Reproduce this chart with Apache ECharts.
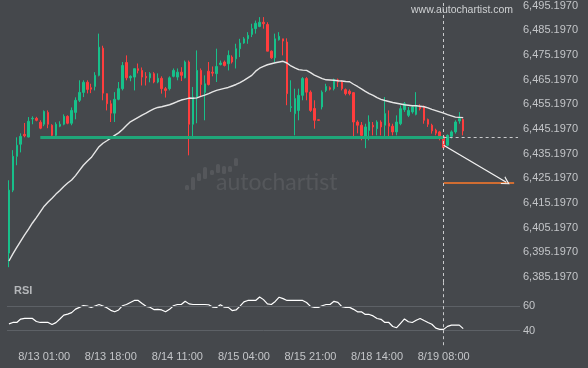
<!DOCTYPE html>
<html>
<head>
<meta charset="utf-8">
<script src="https://cdn.jsdelivr.net/npm/echarts@6/dist/echarts.min.js"></script>
<style>
html,body{margin:0;padding:0;background:#45484c;}
#chart{width:588px;height:368px;}
</style>
</head>
<body>
<div id="chart"></div>
<script>
// ---- data ----
const xTickLabels = ['8/13 01:00','8/13 18:00','8/14 11:00','8/15 04:00','8/15 21:00','8/18 14:00','8/19 08:00'];
const priceTicks = [6385.197,6395.197,6405.197,6415.197,6425.197,6435.197,6445.197,6455.197,6465.197,6475.197,6485.197,6495.197];
const rsiTicks = [40, 60];
const skippedHours = ['8/18 21:00'];
const totalSlots = 131;

// candles: [open, close, low, high]
const candles = [
[6394.9,6420.4,6389.2,6424.4],[6420.4,6434.1,6419.6,6436.6],[6434.1,6438.6,6430.5,6441.8],[6439.0,6442.2,6435.7,6443.4],
[6443.0,6442.4,6441.8,6447.6],[6441.9,6448.3,6441.8,6450.0],[6449.3,6449.5,6447.1,6450.3],[6449.5,6448.7,6448.3,6450.1],
[6447.9,6445.5,6445.1,6448.7],[6447.1,6452.3,6446.3,6452.7],[6451.9,6447.1,6445.5,6452.7],[6446.7,6442.6,6441.9,6447.1],
[6442.6,6447.1,6441.8,6447.9],[6446.3,6447.1,6445.9,6448.3],[6447.1,6450.3,6446.7,6451.1],[6450.3,6447.5,6447.1,6450.7],
[6447.5,6452.7,6446.7,6453.9],[6451.9,6456.8,6449.1,6458.0],[6456.8,6460.0,6456.1,6464.9],[6460.0,6464.1,6458.1,6464.9],
[6464.1,6461.2,6459.6,6464.9],[6461.9,6461.3,6459.7,6463.5],[6462.4,6466.9,6460.8,6468.2],[6466.9,6478.3,6466.5,6483.8],
[6477.9,6459.7,6456.8,6478.9],[6459.5,6455.4,6452.7,6459.6],[6455.4,6451.6,6448.0,6456.8],[6451.6,6457.2,6448.0,6460.1],
[6457.2,6461.5,6456.8,6464.2],[6461.5,6470.9,6460.8,6472.3],[6472.1,6465.9,6464.9,6475.0],[6465.9,6466.5,6464.5,6466.9],
[6466.2,6469.6,6460.8,6469.7],[6469.6,6468.9,6467.7,6471.7],[6468.9,6466.2,6462.8,6470.1],[6466.5,6465.9,6462.8,6468.2],
[6465.9,6467.6,6464.1,6468.2],[6467.6,6464.2,6463.7,6468.2],[6464.2,6465.7,6463.7,6467.7],[6465.7,6461.5,6459.5,6466.5],
[6461.5,6460.8,6457.9,6462.2],[6461.5,6465.9,6460.8,6466.5],[6466.5,6468.9,6466.1,6469.7],[6466.2,6468.2,6464.9,6469.7],
[6468.2,6466.9,6464.6,6470.2],[6465.9,6472.3,6465.7,6472.9],[6472.3,6447.1,6434.5,6472.9],[6447.1,6458.1,6441.4,6462.2],
[6458.1,6468.9,6447.5,6477.0],[6468.9,6463.2,6458.4,6469.7],[6460.0,6463.5,6448.7,6466.9],[6468.6,6463.2,6462.8,6472.3],
[6468.2,6467.8,6466.5,6470.5],[6467.6,6470.5,6464.2,6477.7],[6471.3,6471.9,6470.9,6472.9],[6472.3,6470.9,6470.5,6472.9],
[6471.6,6475.0,6468.9,6477.0],[6474.3,6472.3,6471.7,6475.0],[6473.6,6477.7,6469.7,6479.7],[6477.7,6480.0,6474.3,6481.7],
[6480.0,6481.7,6479.7,6482.4],[6481.7,6483.1,6479.7,6484.4],[6483.5,6485.8,6482.4,6487.8],[6485.8,6488.0,6483.8,6489.1],
[6486.7,6488.4,6486.4,6490.5],[6488.4,6487.8,6485.8,6490.5],[6487.5,6476.7,6476.7,6488.4],[6476.7,6474.0,6473.6,6477.0],
[6474.0,6481.7,6472.3,6483.8],[6481.3,6482.7,6481.0,6484.4],[6481.7,6480.8,6475.0,6481.7],[6480.4,6459.5,6454.8,6481.9],
[6453.9,6454.2,6452.1,6464.9],[6451.4,6457.5,6442.6,6461.5],[6452.7,6458.8,6448.7,6461.5],[6458.8,6465.6,6456.8,6466.2],
[6465.6,6460.1,6456.8,6466.2],[6460.1,6452.7,6452.1,6460.8],[6453.5,6448.7,6445.3,6456.8],[6448.9,6448.7,6448.5,6448.9],
[6454.1,6460.1,6453.1,6460.8],[6460.8,6462.4,6460.1,6463.5],[6461.9,6461.3,6460.8,6462.4],[6461.5,6465.1,6460.8,6465.6],
[6465.1,6464.2,6462.2,6465.6],[6464.2,6461.5,6460.8,6464.9],[6461.1,6459.5,6458.8,6461.6],[6460.5,6459.5,6458.8,6461.2],
[6459.9,6448.0,6441.4,6460.1],[6448.0,6446.7,6443.4,6448.7],[6446.7,6442.6,6440.6,6448.0],[6441.3,6446.0,6437.4,6447.3],
[6444.6,6448.0,6440.6,6450.7],[6446.7,6446.0,6442.6,6448.0],[6445.3,6448.0,6442.6,6448.7],[6448.0,6446.0,6442.6,6448.7],
[6446.7,6451.4,6441.4,6458.1],[6447.5,6446.3,6441.9,6452.7],[6446.3,6444.0,6442.6,6447.3],[6444.0,6448.0,6442.6,6450.7],
[6447.3,6453.4,6446.7,6454.7],[6453.0,6455.4,6452.1,6456.1],[6450.7,6452.7,6450.0,6454.1],[6452.1,6454.1,6451.4,6454.7],
[6451.1,6454.7,6450.7,6460.1],[6454.3,6453.4,6452.7,6455.2],[6454.1,6448.7,6447.3,6454.7],[6449.0,6447.1,6446.0,6449.4],
[6446.7,6444.4,6443.3,6447.3],[6444.7,6443.5,6442.6,6445.3],[6444.0,6441.7,6440.6,6444.4],[6442.2,6437.6,6437.2,6442.6],
[6438.6,6442.6,6438.2,6443.0],[6442.2,6444.0,6441.3,6444.6],[6444.0,6448.0,6443.3,6448.7],[6448.4,6449.4,6447.3,6452.0],
[6449.0,6444.4,6442.6,6449.4]
];

const movingAverage = [
6391.7,6394.6,6397.2,6399.8,6402.3,6404.6,6407.1,6409.3,6411.6,6413.9,
6415.6,6417.1,6418.8,6420.3,6421.9,6423.3,6424.5,6426.3,6428.4,6430.5,
6432.1,6433.6,6435.8,6438.0,6439.4,6440.4,6441.5,6442.6,6443.6,6445.0,
6446.6,6448.1,6449.0,6449.9,6450.8,6451.6,6452.5,6453.3,6453.9,6454.2,
6454.6,6455.0,6455.6,6456.3,6456.9,6457.3,6457.7,6457.6,6457.8,6458.4,
6458.9,6459.5,6460.2,6460.8,6461.2,6461.6,6462.0,6462.6,6463.2,6464.0,
6464.9,6465.9,6466.9,6468.6,6469.8,6470.5,6471.2,6471.6,6472.0,6472.3,
6472.6,6471.9,6470.7,6469.9,6469.2,6469.0,6468.9,6468.0,6467.0,6466.3,
6465.6,6465.1,6465.0,6464.9,6464.7,6464.6,6464.4,6464.3,6463.3,6462.4,
6461.4,6460.4,6459.5,6458.8,6457.9,6457.2,6456.7,6456.3,6455.9,6455.6,
6455.3,6455.0,6454.8,6454.6,6454.6,6454.4,6454.2,6453.7,6453.1,6452.6,
6452.1,6451.6,6451.0,6450.5,6450.0,6449.9,6449.8
];

const rsi = [
45.5,46.7,46.7,49.5,50,50,50,47.5,46.7,46.7,
46.7,45,46.6,49.6,52.7,53.6,54.8,57.7,59.1,60.6,
60.2,59.1,60.3,61.5,60.3,58.9,56.7,55.5,57,60.5,
61.5,63.2,64.8,64.8,62.3,60,59.2,57.3,57.5,57,
55.5,57.5,60.5,61.5,61.5,64.2,62,61.5,61.5,61.5,
61.5,61.3,59.4,59.1,61.3,59.3,59.1,56.5,57,60.2,
63.6,64.8,64.8,64.8,67.7,65.5,62,61.5,64,67.5,
66.3,64.8,64.8,64.8,64.8,64.8,63.1,60,59.1,59.1,
60.5,61.5,61.5,64.1,63.3,59.7,59.1,59.1,57.5,55.5,
55.5,53.3,53.3,52.1,50,49.3,46.7,46.7,43.4,42.4,
46,49.6,47.3,46.7,48.5,50,48.3,46.7,45.2,42,
41,41,43.5,44.5,44.5,44.5,41.6
];

const supportLevel = 6441.7;
const targetLevel = 6423.5;
const arrowFrom = 6438.6;
const arrowTo = 6423.6;
const patternEndLabel = '8/19 08:00';
const supportStartIndex = 8;
const arrowEndIndex = 127;
const targetEndIndex = 129;

// ---- hourly categories (weekend closed) ----
function buildTimes(n) {
  const out = [];
  let t = Date.UTC(2025, 7, 12, 16);
  while (out.length < n) {
    const d = new Date(t);
    const day = d.getUTCDay(), h = d.getUTCHours();
    const label = (d.getUTCMonth() + 1) + '/' + d.getUTCDate() + ' ' + String(h).padStart(2, '0') + ':00';
    const closed = day === 6 || (day === 5 && h > 21) || (day === 0 && h < 22) || skippedHours.indexOf(label) >= 0;
    if (!closed) out.push(label);
    t += 3600000;
  }
  return out;
}
const categories = buildTimes(totalSlots);

const FONT = '"Liberation Sans", Arial, Helvetica, sans-serif';
const chart = echarts.init(document.getElementById('chart'), null, {renderer: 'canvas'});

const chevron = 'path://M0,10 L5,0 L10,10 L8.6,10 L5,2.8 L1.4,10 Z';

const logoBars = [[185,185,5],[191,177,13],[197,173,8],[203,167,12],[210,170,5],[216,164,9],[222,166,8],[228,166,6],[234,158,8]];

chart.setOption({
  animation: false,
  backgroundColor: '#45484c',
  grid: [
    {left: 7, top: 0, width: 513, height: 282},
    {left: 7, top: 282, width: 513, height: 63.2}
  ],
  xAxis: [
    {type: 'category', gridIndex: 0, data: categories, boundaryGap: true,
     axisLine: {show: false}, axisTick: {show: false}, axisLabel: {show: false}, splitLine: {show: false}},
    {type: 'category', gridIndex: 1, data: categories, boundaryGap: true,
     axisLine: {show: false}, axisTick: {show: false}, splitLine: {show: false},
     axisLabel: {
       interval: function (i, v) { return xTickLabels.indexOf(v) >= 0; },
       color: '#c3c5c8', fontSize: 11, fontFamily: FONT, margin: 6
     }}
  ],
  yAxis: [
    {type: 'value', gridIndex: 0, position: 'right', min: 6383.197, max: 6497.197,
     axisLine: {show: false}, axisTick: {show: false}, splitLine: {show: false},
     axisLabel: {
       customValues: priceTicks, color: '#c3c5c8', fontSize: 11, fontFamily: FONT, margin: 3,
       formatter: function (v) { return Number(v).toLocaleString('en-US', {minimumFractionDigits: 4, maximumFractionDigits: 4}); }
     }},
    {type: 'value', gridIndex: 1, position: 'right', min: 28, max: 80,
     axisLine: {show: false}, axisTick: {show: false}, splitLine: {show: false},
     axisLabel: {customValues: rsiTicks, color: '#c3c5c8', fontSize: 11, fontFamily: FONT, margin: 3,
       formatter: function (v) { return String(Math.round(v)); }}}
  ],
  graphic: [
    {type: 'text', left: 411, top: 5, silent: true,
     style: {text: 'www.autochartist.com', fill: '#cfd1d3', font: '10.5px ' + FONT}},
    {type: 'text', left: 14, top: 285, silent: true,
     style: {text: 'RSI', fill: '#b5b7ba', font: 'bold 11px ' + FONT}},
    {type: 'text', left: 216, top: 171, silent: true, z: -1,
     style: {text: 'autochartist', fill: 'rgba(255,255,255,0.085)', font: '23px Lato, "Open Sans", sans-serif'}}
  ].concat(logoBars.map(function (b) {
    return {type: 'rect', silent: true, z: -1, shape: {x: b[0], y: b[1], width: 4, height: b[2], r: 1.5},
            style: {fill: 'rgba(255,255,255,0.085)'}};
  })),
  series: [
    {
      type: 'candlestick', xAxisIndex: 0, yAxisIndex: 0, data: candles,
      barWidth: 2,
      itemStyle: {color: '#17c08a', color0: '#ff3d3d', borderColor: '#17c08a', borderColor0: '#ff3d3d', borderWidth: 1},
      markLine: {
        silent: true, symbol: ['none', 'none'], label: {show: false},
        data: [
          [{coord: [categories[supportStartIndex], supportLevel], lineStyle: {color: '#1fa679', width: 3, type: 'solid'}},
           {coord: [patternEndLabel, supportLevel]}],
          [{coord: [patternEndLabel, supportLevel], lineStyle: {color: '#c9cacc', width: 1, type: [3, 3]}},
           {coord: [categories[totalSlots - 1], supportLevel]}],
          [{coord: [patternEndLabel, targetLevel], lineStyle: {color: '#ff7a2a', width: 1.5, type: 'solid'}},
           {coord: [categories[targetEndIndex], targetLevel]}],
          {xAxis: patternEndLabel, lineStyle: {color: '#c9cacc', width: 1, type: [3, 3]}}
        ]
      }
    },
    {
      type: 'line', xAxisIndex: 0, yAxisIndex: 0, data: movingAverage,
      symbol: 'none', lineStyle: {color: '#e6e6e6', width: 1.4},
      markLine: {
        silent: true, symbol: ['none', 'none'], label: {show: false},
        data: [
          [{coord: [patternEndLabel, arrowFrom], lineStyle: {color: '#f2f2f2', width: 1.3, type: 'solid'}},
           {coord: [categories[arrowEndIndex], arrowTo], symbol: chevron, symbolSize: [9, 8]}]
        ]
      }
    },
    {
      type: 'line', xAxisIndex: 1, yAxisIndex: 1, data: rsi,
      symbol: 'none', lineStyle: {color: '#ffffff', width: 1.2},
      markLine: {
        silent: true, symbol: ['none', 'none'], label: {show: false},
        data: [
          {yAxis: 60, lineStyle: {color: '#5d6166', width: 1, type: 'solid'}},
          {yAxis: 40, lineStyle: {color: '#5d6166', width: 1, type: 'solid'}},
          {xAxis: patternEndLabel, lineStyle: {color: '#c9cacc', width: 1, type: [3, 3]}}
        ]
      }
    }
  ]
});
</script>
</body>
</html>
